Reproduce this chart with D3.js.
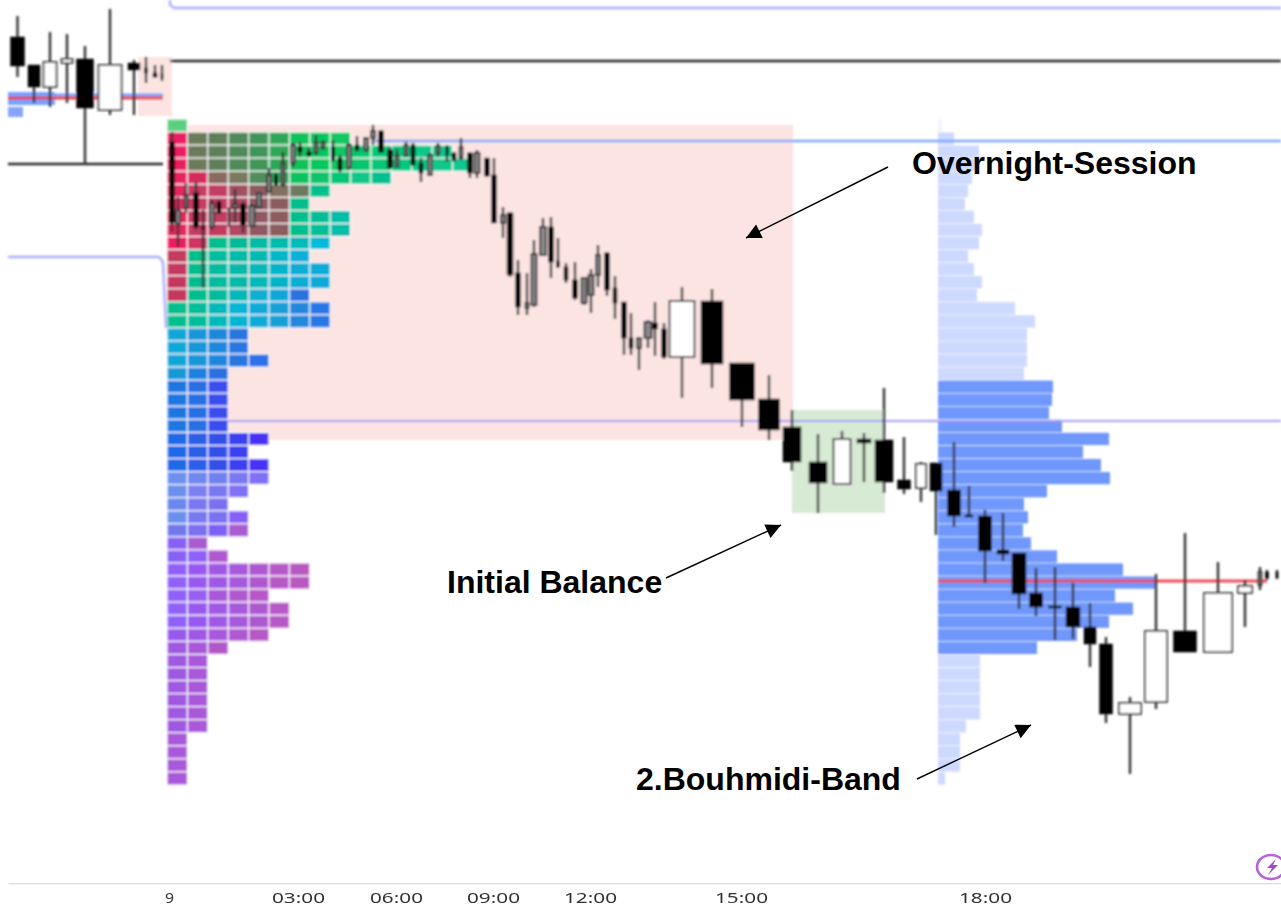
<!DOCTYPE html>
<html>
<head>
<meta charset="utf-8">
<script src="https://cdn.jsdelivr.net/npm/d3@7/dist/d3.min.js"></script>
<style>
  html, body { margin: 0; padding: 0; background: #fff; overflow: hidden; }
  svg { display: block; }
</style>
</head>
<body>
<svg id="chart" width="1281" height="908"></svg>
<script>
// candles (position on the volume-spaced time axis, volume, OHLC)
const candlePos = [17.5,34,50,67,85,110,134,146,155,162,
  172,178,186,196,203,212,219,229,235,243,252,259,269,276,283,293,300,309,316,323,333,340,349,357,366,373,381,390,397,406,413,421,430,438,447,454,461,470,477,487,494,503,510,518,527,534,543,551,558,566,575,584,591,598,607,615,624,631,639,648,655,664,
  682,712,742,769,792,818,842,864,884,904,921,936,954,969,985,1003,1019,1036,1055,1073,1090,1106,1130,1156,1185,1218,1245,1260,1267,1277];
const candleVol = [14,12,13,11,17,23,12,3,4,2,
  5,4,3,5,3,4,4,2,4,5,5,4,4,3,3,4,4,4,3,3,3,4,4,4,4,4,5,5,3,3,4,4,4,3,2,4,3,5,5,5,5,4,6,5,3,5,6,5,3,4,5,5,5,4,5,4,5,4,4,7,5,5,
  25,22,25,21,18,18,17,14,18,13,10,12,13,8,13,12,14,13,13,14,12,13,22,22,23,28,14,3,3,2];
const candleOpen = [843,815,793,817,821,770,817,812,807,806,
  738,656,672,687,653,653,678,672,672,676,654,673,688,705,695,717,733,728,727,732,733,722,712,735,730,742,749,730,713,724,735,717,705,727,733,727,722,727,707,722,705,657,667,607,572,575,625,653,619,613,600,577,585,605,627,592,578,542,532,542,557,551,
  523,579,517,481,453,418,396,441,440,400,392,417,390,365,364,330,327,287,274,273,253,236,166,178,249,228,287,295,308,308];
const candleHigh = [864,815,848,846,834,871,820,823,815,815,
  748,683,697,698,670,680,680,672,691,678,676,688,712,707,728,737,738,733,745,740,740,725,737,744,743,755,750,733,731,738,737,722,727,737,735,728,742,728,730,722,722,673,668,620,607,640,662,663,642,617,618,603,611,635,628,604,578,567,543,560,578,557,
  593,591,517,505,470,446,449,447,492,443,418,417,438,394,370,367,327,312,313,297,277,243,183,306,347,318,300,313,310,310];
const candleLow = [803,777,773,777,715,765,765,797,802,799,
  648,633,667,650,592,650,666,653,657,647,653,672,687,694,693,713,723,723,725,730,718,708,710,728,728,735,727,711,712,723,714,698,704,723,718,718,720,702,702,703,657,642,603,565,565,573,624,602,612,597,580,575,567,593,584,561,525,525,510,532,524,521,
  482,492,453,440,409,367,396,398,387,386,378,345,353,363,297,319,271,264,240,241,213,157,106,171,228,228,253,290,300,301];
const candleClose = [814,793,818,821,772,815,810,807,803,802,
  657,670,685,653,651,677,667,670,676,655,674,687,705,695,717,735,728,724,738,738,720,710,735,730,742,749,728,712,725,735,715,707,725,734,725,720,733,707,727,704,657,665,605,573,577,626,653,618,613,600,582,602,605,625,590,577,542,532,542,558,551,523,
  579,516,480,450,418,397,441,437,398,391,416,389,364,363,329,326,286,273,272,253,236,166,177,249,228,287,294,308,302,302];

// left TPO profile: cells per price row, top row first
const tpoCells = [1,9,14,15,11,8,7,9,9,8,7,8,8,7,8,8,4,4,5,3,3,3,3,3,5,4,5,5,4,3,4,4,2,3,7,7,5,6,6,5,3,2,2,2,2,2,2,1,1,1,1];
// right volume profile: volume per price row, same rows
const profileVol = [4,16,41,37,34,30,27,36,44,41,30,36,44,39,77,97,89,89,89,86,115,114,111,124,171,145,163,172,109,86,90,85,93,119,185,219,177,195,171,139,99,42,42,42,42,42,28,22,22,22,7];
const valueAreaRows = [20, 40];

const tickPos = [169, 298, 396, 493, 590, 741, 985];
const tickLabels = ["9", "03:00", "06:00", "09:00", "12:00", "15:00", "18:00"];

// levels and session boxes, in position / price units
const upperBand = [[170, 880], [170, 875], [174, 872], [1281, 872]];
const lowerBand = [[8, 623], [159, 623], [163, 618], [166, 552]];
const blackLevel = [[170, 819], [1281, 819]];
const blackLevelPrev = [[8, 716], [163, 716]];
const blueLevel = [[373, 739], [1281, 739]];
const purpleLevel = [[228, 459], [1281, 459]];
const pocPrev = [[8, 782], [163, 782]];
const pocBluePrev = [[8, 785], [163, 785]];
const pocBandPrev = [[8, 781.5], [55, 781.5]];
const poc = [[938, 299], [1267, 299]];
const pinkBoxes = [[167, 793, 755, 440], [138, 172, 823, 764]];
const greenBoxes = [[792, 885, 470, 367]];

const labels = ["Overnight-Session", "Initial Balance", "2.Bouhmidi-Band"];

// colours of the left profile, one list per row, last colour repeats
const gridTop = ["#ea1f63","#6b7a5a","#5f7f5a","#4f8a58","#3f9558","#2ea858","#0ac35c","#05c860","#0ac864","#05c870","#05c878","#05c880","#08c888","#0cc88c","#10c890"];
const redTeal = ["#e5265f","#c83a62","#c43a62","#b04663","#905860","#8c5b5f","#00bf8e","#00bf98","#00beaa"];
const tealA = ["#c4395f","#00bd90","#00bca0","#00bbac","#00b9b8","#00b5c8","#08aed6","#0aabd8"];
const tealB = ["#00bf8f","#00bd9c","#00b9bc","#00b6d4","#0aacd8","#14a0d8","#2088dc","#2878e4"];
const blueA = ["#10a8d8","#1498d8","#1e88dc","#2878e0","#2e70e8"];
const blueB = ["#1c78e0","#2870e4","#3a4eee"];
const blueC = ["#1e6ae8","#2a5ee8","#3050e8","#3a40f0","#4830f8"];
const violetA = ["#9060f8","#9858f0","#a058e4","#a858dc","#ae58d0","#b858c8","#b858c0"];
const violetB = ["#a058e0","#a858d8","#b058c8"];
const tpoColors = [
  ["#5ccf80"], gridTop, gridTop, gridTop,
  ["#e8235f","#d62c5e","#8a6a5f","#7a7a5e","#4f8f5a","#2fa85a","#0bc35f","#08c46a","#06c67a","#0cc88a","#00c090"],
  ["#e5285f","#c83b62","#c23c63","#a34f62","#8d5c60","#85705e","#6c7a5e","#00c08e"],
  redTeal, redTeal, redTeal,
  ["#ee1f63","#cf3563","#00bf8e","#00bc98","#00bca6","#00bcb0","#00bbbc","#00bcd8"],
  ["#c43a60","#00bf8c","#00bea0","#00bca8","#00bab4","#00b8c8","#0ab0d6"],
  tealA, tealA,
  ["#c4395f","#00bd90","#00bc9c","#00b8b8","#08b0d0","#10a8d8","#2a72e0"],
  tealB, tealB, blueA, blueA, blueA,
  ["#1498d8","#1e80e0","#2c70e0"],
  blueB, blueB, blueB, blueB, blueC, blueC, blueC,
  ["#6e90ee","#7088ee","#7080ee","#7a78f0","#8070f5"],
  ["#6c90ee","#7a80f0","#7a78f0","#8070f8"],
  ["#6a88ee","#7a78f0","#7a70f0"],
  ["#6a90ee","#7878f0","#7a70f0","#8860f8"],
  ["#7078ec","#7c70f0","#8060f4","#a85cd0"],
  ["#8860f4","#a85cd0"],
  ["#8860f4","#9060fa","#b058d0"],
  violetA, violetA,
  ["#9060f8","#9860f0","#a858d8","#b058d0","#b858c8"],
  ["#9060f8","#9858f0","#a058e4","#a858dc","#ae58d0","#b858c8"],
  ["#9060f8","#9858f0","#a058e4","#a858dc","#ae58d0","#b858c8"],
  ["#9858ec","#a058e4","#a858dc","#b058d0","#b858c8"],
  violetB, violetB, violetB, violetB, violetB, violetB, violetB,
  ["#a858d8"], ["#a858d8"], ["#a858d8"], ["#a858d8"]
];

const svg = d3.select("#chart");

const x = d3.scaleLinear().domain([8, 1281]).range([8, 1281]);
const y = d3.scaleLinear().domain([0, 880]).range([880, 0]);
const volWidth = d3.scaleLinear().domain([0, 30]).range([0, 30]);

const rows = d3.scaleBand().domain(d3.range(tpoCells.length)).range([119, 785]);
const cols = d3.scaleBand().domain(d3.range(15)).range([167, 473]);
const profileX = d3.scaleLinear().domain([0, 220]).range([938, 1158]);

const defs = svg.append("defs");
[["soft", 1.0], ["softText", 0.6]].forEach(([id, sd]) => {
    defs.append("filter").attr("id", id)
        .attr("filterUnits", "userSpaceOnUse")
        .attr("x", 0).attr("y", 0).attr("width", 1281).attr("height", 908)
        .append("feGaussianBlur").attr("stdDeviation", sd);
});
defs.append("marker").attr("id", "arrow")
    .attr("viewBox", "0 0 10 10").attr("refX", 10).attr("refY", 5)
    .attr("markerWidth", 18).attr("markerHeight", 15)
    .attr("markerUnits", "userSpaceOnUse").attr("orient", "auto")
    .append("path").attr("d", "M0,0L10,5L0,10Z").attr("fill", "#000");

const g = svg.append("g").attr("filter", "url(#soft)");

// session boxes
function boxes(data, color) {
    g.append("g").selectAll("rect").data(data).enter().append("rect")
        .attr("x", d => x(d[0])).attr("width", d => x(d[1]) - x(d[0]))
        .attr("y", d => y(d[2])).attr("height", d => y(d[3]) - y(d[2]))
        .attr("fill", color);
}
boxes(pinkBoxes, "#fbe4e2");
boxes(greenBoxes, "#d7ead4");

// left profile
tpoCells.forEach((n, r) => {
    g.append("g").selectAll("rect").data(d3.range(n)).enter().append("rect")
        .attr("x", c => cols(c))
        .attr("y", rows(r))
        .attr("width", cols.bandwidth())
        .attr("height", rows.bandwidth())
        .attr("fill", c => tpoColors[r][Math.min(c, tpoColors[r].length - 1)])
        .attr("stroke", "#fff")
        .attr("stroke-width", 1.1);
});

// right profile
g.append("g").selectAll("rect").data(profileVol).enter().append("rect")
    .attr("x", profileX(0))
    .attr("y", (d, i) => rows(i) + 0.4)
    .attr("width", d => profileX(d) - profileX(0))
    .attr("height", rows.bandwidth() - 0.8)
    .attr("fill", (d, i) => i === 0 ? "#f1f4ff"
        : (i >= valueAreaRows[0] && i <= valueAreaRows[1]) ? "#7097fb" : "#cdd9ff");

// levels
const line = d3.line().x(d => x(d[0])).y(d => y(d[1]));
function level(data, color, w) {
    g.append("path").attr("d", line(data)).attr("fill", "none")
        .attr("stroke", color).attr("stroke-width", w);
}
level(pocBandPrev, "#7ba0ff", 13);
level(pocBluePrev, "#7ba0ff", 3);
level(pocPrev, "#e8404f", 3);
level(upperBand, "#a9aefc", 2.4);
level(lowerBand, "#a9aefc", 2.4);
level(blackLevel, "#222", 2.6);
level(blackLevelPrev, "#222", 2.6);
level(blueLevel, "#7ea8f6", 2.4);
level(purpleLevel, "#a49df6", 1.9);
level(poc, "#ee4a58", 3.2);

g.append("rect")
    .attr("x", x(8)).attr("width", x(23) - x(8))
    .attr("y", y(773)).attr("height", y(763) - y(773))
    .attr("fill", "#85a5f8");

// candles
const candles = candlePos.map((p, i) => ({
    pos: p, vol: candleVol[i], open: candleOpen[i], high: candleHigh[i],
    low: candleLow[i], close: candleClose[i]
}));
const candle = g.append("g").selectAll("g").data(candles).enter().append("g")
    .attr("transform", d => `translate(${x(d.pos)},0)`);
candle.append("line")
    .attr("y1", d => y(d.high)).attr("y2", d => y(d.low))
    .attr("stroke", "#333").attr("stroke-width", 2.4);
candle.append("rect")
    .attr("x", d => -volWidth(d.vol) / 2)
    .attr("width", d => volWidth(d.vol))
    .attr("y", d => y(Math.max(d.open, d.close)))
    .attr("height", d => Math.abs(y(d.open) - y(d.close)))
    // narrow up bars blur to grey in the source
    .attr("fill", d => d.close >= d.open ? (d.vol < 8 ? "#8a8a8a" : "#fff") : "#000")
    .attr("stroke", d => d.close >= d.open ? "#333" : "#000")
    .attr("stroke-width", d => d.close >= d.open ? 1.8 : 0.5);

// time axis
const axis = svg.append("g").attr("transform", "translate(0,883)")
    .attr("filter", "url(#softText)")
    .call(d3.axisBottom(x).tickValues(tickPos).tickFormat((d, i) => tickLabels[i]).tickSize(0).tickPadding(9));
axis.select(".domain").attr("stroke", "#dcdcdc").attr("stroke-width", 1.5);
axis.selectAll("text")
    .attr("font-family", "'Noto Sans', sans-serif")
    .attr("font-size", 15)
    .attr("fill", "#333")
    .attr("textLength", (d, i) => i === 0 ? 9 : 53)
    .attr("lengthAdjust", "spacingAndGlyphs");

// logo badge bottom right
const badge = svg.append("g").attr("filter", "url(#softText)");
badge.append("ellipse").attr("cx", 1271).attr("cy", 867).attr("rx", 14).attr("ry", 12)
    .attr("fill", "#fff").attr("stroke", "#b565d9").attr("stroke-width", 2.6);
badge.append("path").attr("d", "M1276,859L1267,868L1272,868L1268,875L1278,865L1273,865Z").attr("fill", "#a04cc8");

// annotations
const notes = [
    { text: labels[0], x: 912, y: 174 },
    { text: labels[1], x: 447, y: 593 },
    { text: labels[2], x: 636, y: 790 }
];
svg.append("g").selectAll("text").data(notes).enter().append("text")
    .attr("x", d => d.x).attr("y", d => d.y)
    .attr("font-family", "'Liberation Sans', Arial, sans-serif")
    .attr("font-weight", "bold").attr("font-size", 32)
    .attr("fill", "#000")
    .text(d => d.text);

const arrows = [
    [888, 167, 746, 238],
    [666, 578, 781, 525],
    [917, 779, 1031, 725]
];
svg.append("g").selectAll("line").data(arrows).enter().append("line")
    .attr("x1", d => d[0]).attr("y1", d => d[1])
    .attr("x2", d => d[2]).attr("y2", d => d[3])
    .attr("stroke", "#000").attr("stroke-width", 1.4)
    .attr("marker-end", "url(#arrow)");
</script>
</body>
</html>
